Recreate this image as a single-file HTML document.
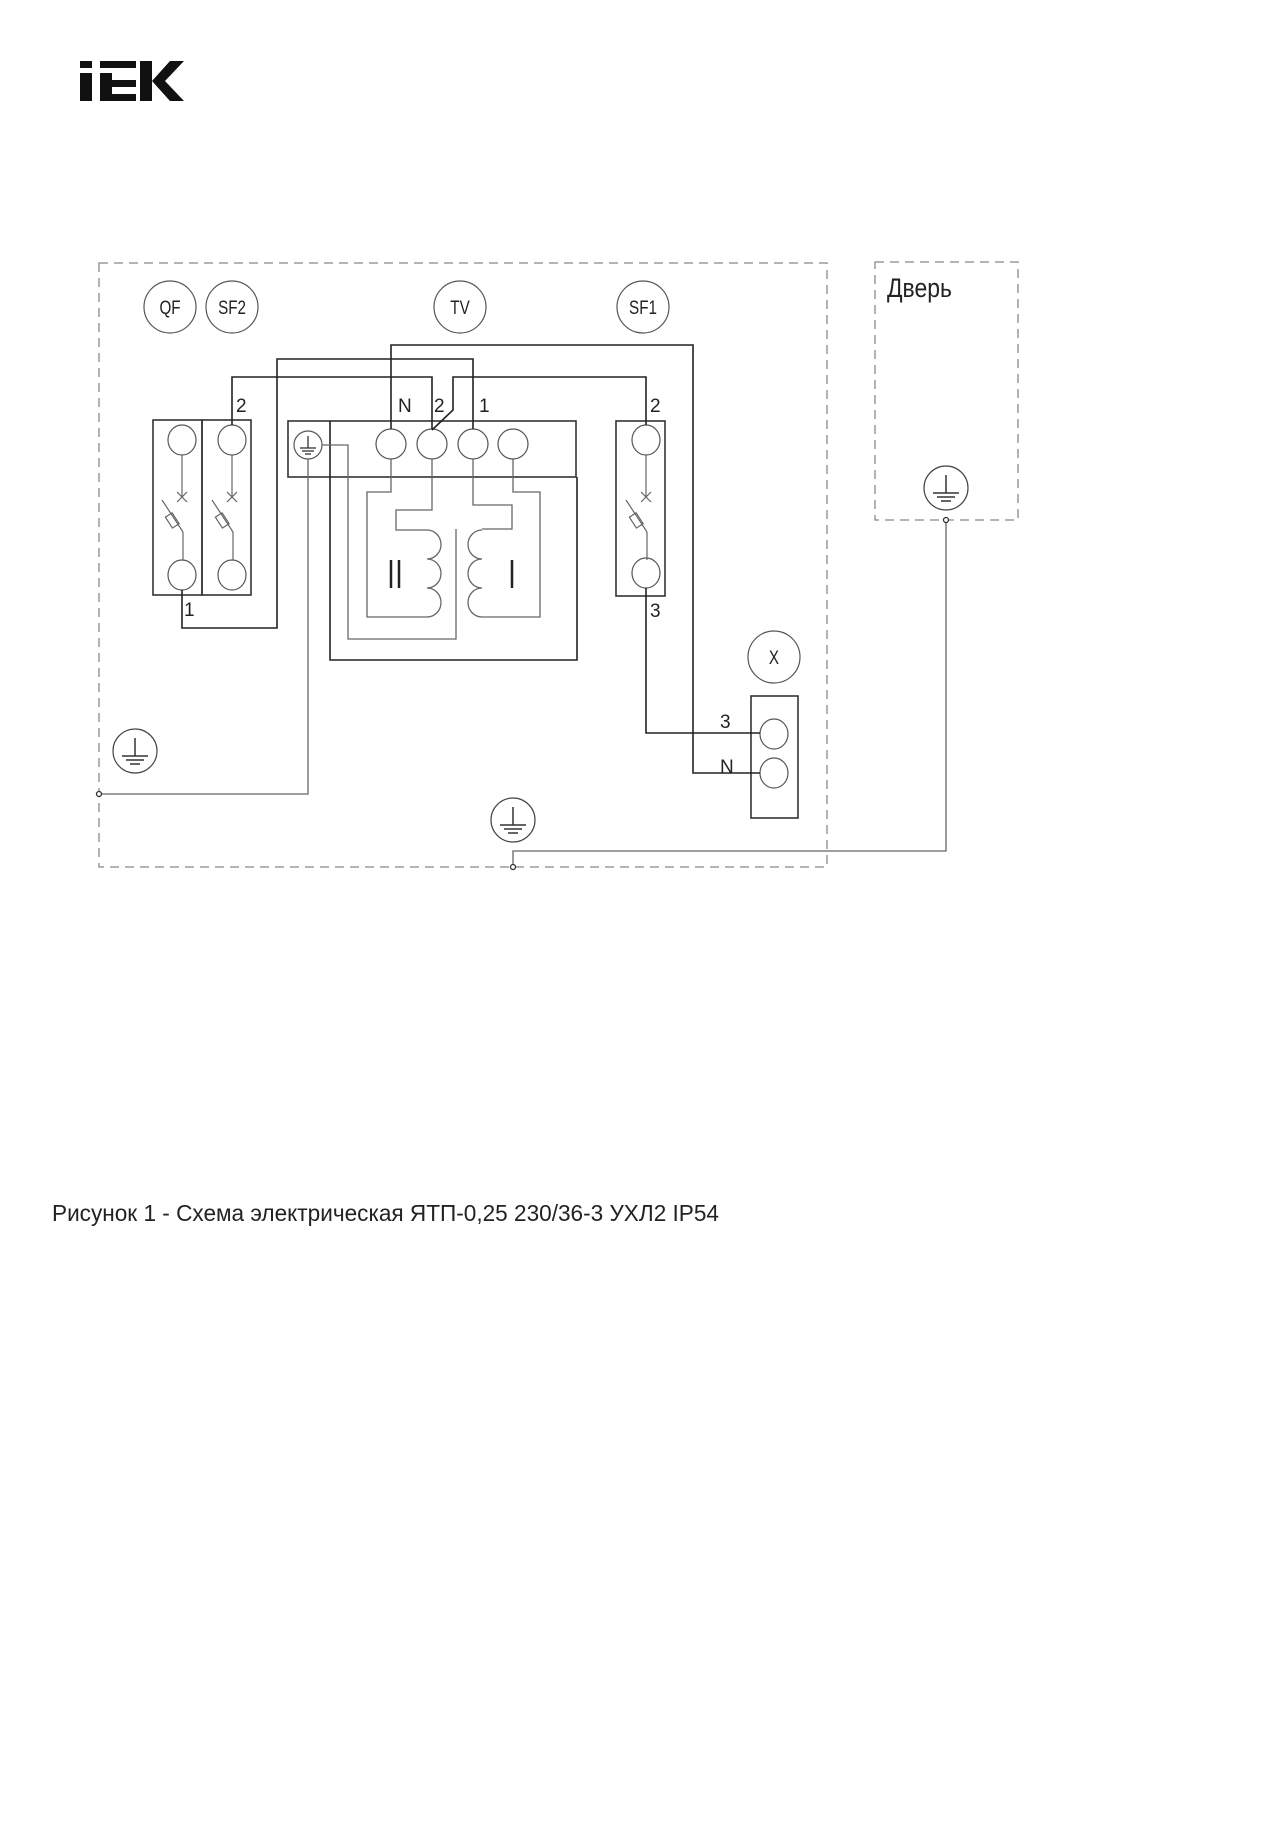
<!DOCTYPE html>
<html><head><meta charset="utf-8"><style>
html,body{margin:0;padding:0;background:#fff;}
svg{display:block}
text{font-family:"Liberation Sans",sans-serif;fill:#222}
</style></head><body>
<svg width="1280" height="1821" viewBox="0 0 1280 1821" xmlns="http://www.w3.org/2000/svg">
<defs>
<g id="gnd"><circle r="22" fill="none" stroke="#444" stroke-width="1.2"/><line x1="0" y1="-13" x2="0" y2="5" stroke="#333" stroke-width="1.5"/><line x1="-13" y1="5" x2="13" y2="5" stroke="#333" stroke-width="1.5"/><line x1="-9" y1="9" x2="9" y2="9" stroke="#333" stroke-width="1.5"/><line x1="-5" y1="13" x2="5" y2="13" stroke="#333" stroke-width="1.5"/></g>
<g id="sw" fill="none" stroke="#666" stroke-width="1.2"><line x1="0" y1="15" x2="0" y2="57"/><line x1="-5" y1="52" x2="5" y2="62"/><line x1="5" y1="52" x2="-5" y2="62"/><line x1="-20" y1="60" x2="1" y2="92"/><rect x="-14" y="74" width="8" height="13" transform="rotate(-33 -10 80)"/><line x1="1" y1="92" x2="1" y2="120"/></g>
</defs>
<!-- logo -->
<g fill="#111">
<rect x="80" y="61" width="12" height="7"/><rect x="80" y="73" width="12" height="28"/>
<rect x="100" y="61" width="36" height="7"/><rect x="100" y="73" width="12" height="28"/><rect x="112" y="80" width="24" height="7"/><rect x="112" y="94" width="24" height="7"/>
<rect x="140" y="61" width="12" height="40"/><polygon points="152,81 170,61 184,61 165,81 184,101 170,101"/>
</g>
<!-- dashed boxes -->
<g fill="none" stroke="#888" stroke-width="1.3" stroke-dasharray="9,6">
<rect x="99" y="263" width="728" height="604"/>
<rect x="875" y="262" width="143" height="258"/>
</g>
<!-- label circles -->
<g fill="none" stroke="#555" stroke-width="1.2">
<circle cx="170" cy="307" r="26"/><circle cx="232" cy="307" r="26"/><circle cx="460" cy="307" r="26"/><circle cx="643" cy="307" r="26"/><circle cx="774" cy="657" r="26"/>
</g>
<g font-size="19" text-anchor="middle">
<text x="170" y="314" transform="translate(170 0) scale(0.8 1) translate(-170 0)">QF</text>
<text x="232" y="314" transform="translate(232 0) scale(0.8 1) translate(-232 0)">SF2</text>
<text x="460" y="314" transform="translate(460 0) scale(0.8 1) translate(-460 0)">TV</text>
<text x="643" y="314" transform="translate(643 0) scale(0.8 1) translate(-643 0)">SF1</text>
<text x="774" y="664" transform="translate(774 0) scale(0.8 1) translate(-774 0)">X</text>
</g>
<text x="887" y="297" font-size="27" transform="translate(887 0) scale(0.85 1) translate(-887 0)">Дверь</text>
<!-- blocks -->
<g fill="none" stroke="#333" stroke-width="1.6">
<rect x="153" y="420" width="49" height="175"/><rect x="202" y="420" width="49" height="175"/>
<rect x="288" y="421" width="288" height="56"/>
<rect x="616" y="421" width="49" height="175"/>
<rect x="751" y="696" width="47" height="122"/>
</g>
<g fill="none" stroke="#555" stroke-width="1.2">
<ellipse cx="182" cy="440" rx="14" ry="15"/><ellipse cx="232" cy="440" rx="14" ry="15"/>
<ellipse cx="182" cy="575" rx="14" ry="15"/><ellipse cx="232" cy="575" rx="14" ry="15"/>
<ellipse cx="646" cy="440" rx="14" ry="15"/><ellipse cx="646" cy="573" rx="14" ry="15"/>
<circle cx="308" cy="445" r="14"/>
<ellipse cx="391" cy="444" rx="15" ry="15"/><ellipse cx="432" cy="444" rx="15" ry="15"/><ellipse cx="473" cy="444" rx="15" ry="15"/><ellipse cx="513" cy="444" rx="15" ry="15"/>
<ellipse cx="774" cy="734" rx="14" ry="15"/><ellipse cx="774" cy="773" rx="14" ry="15"/>
</g>
<g stroke="#333" stroke-width="1.3"><line x1="308" y1="436" x2="308" y2="448"/><line x1="300" y1="448" x2="316" y2="448"/><line x1="302" y1="451" x2="314" y2="451"/><line x1="305" y1="454" x2="311" y2="454"/></g>
<use href="#sw" x="182" y="440"/><use href="#sw" x="232" y="440"/><use href="#sw" x="646" y="440"/>
<!-- black wires -->
<g fill="none" stroke="#222" stroke-width="1.6">
<polyline points="391,429 391,345 693,345 693,773 760,773"/>
<polyline points="473,429 473,359 277,359 277,628 182,628 182,590"/>
<polyline points="232,425 232,377 432,377 432,429"/>
<polyline points="432,430 453,410 453,377 646,377 646,425"/>
<polyline points="646,588 646,733 760,733"/>
<polyline points="330,421 330,660 577,660 577,477"/>
</g>
<!-- gray wires -->
<g fill="none" stroke="#666" stroke-width="1.3">
<polyline points="322,445 348,445 348,639 456,639 456,529"/>
<polyline points="391,459 391,492 367,492 367,617 427,617"/>
<polyline points="432,459 432,510 396,510 396,530 427,530"/>
<path d="M427,530 a14,14.5 0 0 1 0,29 a14,14.5 0 0 1 0,29 a14,14.5 0 0 1 0,29"/>
<polyline points="473,459 473,505 512,505 512,529 482,529"/>
<path d="M482,530 a14,14.5 0 0 0 0,29 a14,14.5 0 0 0 0,29 a14,14.5 0 0 0 0,29"/>
<polyline points="482,617 540,617 540,492 513,492 513,459"/>
<polyline points="308,459 308,794 99,794"/>
<polyline points="946,520 946,851 513,851 513,867"/>
</g>
<g fill="#fff" stroke="#333" stroke-width="1.3"><circle cx="99" cy="794" r="2.5"/><circle cx="946" cy="520" r="2.5"/><circle cx="513" cy="867" r="2.5"/></g>
<use href="#gnd" x="135" y="751"/><use href="#gnd" x="513" y="820"/><use href="#gnd" x="946" y="488"/>
<g stroke="#222" stroke-width="2.5"><line x1="391" y1="560" x2="391" y2="588"/><line x1="399" y1="560" x2="399" y2="588"/><line x1="512" y1="560" x2="512" y2="588"/></g>
<g font-size="19">
<text x="398" y="412">N</text><text x="434" y="412">2</text><text x="479" y="412">1</text>
<text x="236" y="412">2</text><text x="184" y="616">1</text><text x="650" y="412">2</text><text x="650" y="617">3</text>
<text x="720" y="728">3</text><text x="720" y="773">N</text>
</g>
<text x="52" y="1221" font-size="23" textLength="667" lengthAdjust="spacingAndGlyphs">Рисунок 1 - Схема электрическая ЯТП-0,25 230/36-3 УХЛ2 IP54</text>
</svg>
</body></html>
